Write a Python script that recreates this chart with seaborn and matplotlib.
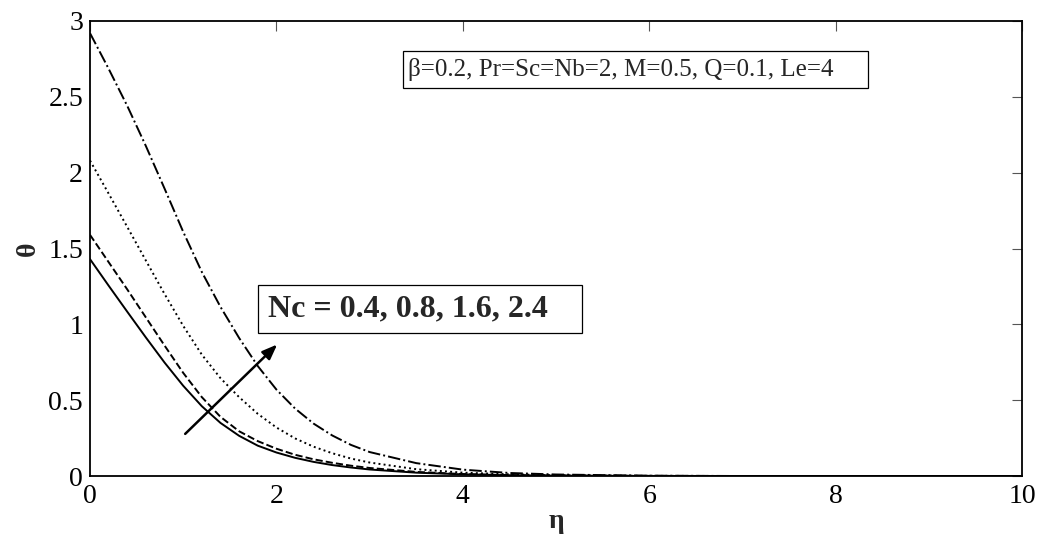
#!/usr/bin/env python3

import matplotlib
matplotlib.use("Agg")
import matplotlib.pyplot as plt
from matplotlib.patches import Rectangle
import seaborn as sns
import pandas as pd

# Temperature profiles theta(eta) for several Nc
eta = [0, 0.2, 0.4, 0.6, 0.8, 1.0, 1.2, 1.4, 1.6, 1.8, 2.0, 2.2, 2.4, 2.6, 2.8, 3.0,
       3.5, 4, 4.5, 5, 6, 7, 8, 9, 10]
nc_values = ["0.4", "0.8", "1.6", "2.4"]
theta_nc04 = [1.43, 1.255, 1.083, 0.913, 0.748, 0.595, 0.46, 0.35, 0.265, 0.20, 0.155,
              0.12, 0.093, 0.072, 0.056, 0.043, 0.022, 0.011, 0.005, 0.0025, 0.0005,
              0, 0, 0, 0]
theta_nc08 = [1.59, 1.41, 1.23, 1.045, 0.86, 0.68, 0.52, 0.39, 0.295, 0.23, 0.18,
              0.14, 0.11, 0.087, 0.068, 0.053, 0.027, 0.013, 0.006, 0.003, 0.0007,
              0, 0, 0, 0]
theta_nc16 = [2.08, 1.862, 1.642, 1.42, 1.20, 0.99, 0.80, 0.645, 0.52, 0.41, 0.32,
              0.248, 0.193, 0.15, 0.115, 0.089, 0.045, 0.022, 0.011, 0.005, 0.001,
              0, 0, 0, 0]
theta_nc24 = [2.92, 2.685, 2.44, 2.175, 1.895, 1.61, 1.345, 1.115, 0.91, 0.725, 0.57,
              0.445, 0.345, 0.267, 0.205, 0.158, 0.085, 0.042, 0.02, 0.01, 0.002,
              0, 0, 0, 0]
line_styles = ["-", "--", ":", "-."]

x_ticks = [0, 2, 4, 6, 8, 10]
y_ticks = [0, 0.5, 1, 1.5, 2, 2.5, 3]
y_tick_labels = ["0", "0.5", "1", "1.5", "2", "2.5", "3"]

sns.set_style("white")
serif = ["Liberation Serif", "DejaVu Serif"]
plt.rcParams["font.family"] = serif


def main():
    frames = []
    for nc, theta in zip(nc_values, [theta_nc04, theta_nc08, theta_nc16, theta_nc24]):
        frames.append(pd.DataFrame({"eta": eta, "theta": theta, "Nc": nc}))
    df = pd.concat(frames, ignore_index=True)

    fig = plt.figure(figsize=(10.44, 5.51), dpi=100)
    ax = fig.add_axes([0.0862, 0.1361, 0.8928, 0.8258])

    for nc, ls in zip(nc_values, line_styles):
        sub = df[df.Nc == nc]
        sns.lineplot(sub, x="eta", y="theta", ax=ax, color="black",
                     linestyle=ls, linewidth=1.4, estimator=None, sort=False)

    ax.set_xlim(0, 10)
    ax.set_ylim(0, 3)
    ax.set_xticks(x_ticks)
    ax.set_xticklabels([str(t) for t in x_ticks])
    ax.set_yticks(y_ticks)
    ax.set_yticklabels(y_tick_labels)
    ax.tick_params(direction="in", length=7, width=0.8, top=True, right=True,
                   labelsize=20, color="#555555", labelcolor="black")
    ax.tick_params(axis="x", pad=6)
    ax.tick_params(axis="y", pad=5)
    for s in ax.spines.values():
        s.set_color("black")
        s.set_linewidth(1.3)

    ax.set_xlabel("η", fontsize=20, fontweight="bold", labelpad=0)
    ax.set_ylabel("θ", fontsize=20, fontweight="bold", labelpad=5)

    # parameter box (MATLAB style text box, wider on the right)
    ax.add_patch(Rectangle((3.36, 2.558), 4.99, 0.242, transform=ax.transData,
                           fill=True, fc="white", ec="black", lw=0.9, zorder=4))
    ax.text(3.41, 2.68, "β=0.2, Pr=Sc=Nb=2, M=0.5, Q=0.1, Le=4", fontsize=18,
            ha="left", va="center", zorder=5)

    ax.add_patch(Rectangle((1.80, 0.943), 3.48, 0.316, transform=ax.transData,
                           fill=True, fc="white", ec="black", lw=0.9, zorder=4))
    ax.text(1.91, 1.10, "Nc = 0.4, 0.8, 1.6, 2.4", fontsize=23, fontweight="bold",
            ha="left", va="center", zorder=5)

    ax.annotate("", xy=(2.03, 0.88), xytext=(1.0, 0.265),
                arrowprops=dict(arrowstyle="-|>,head_length=0.9,head_width=0.35",
                                color="black", lw=1.8))

    fig.savefig("out.png", dpi=100)


if __name__ == "__main__":
    main()
